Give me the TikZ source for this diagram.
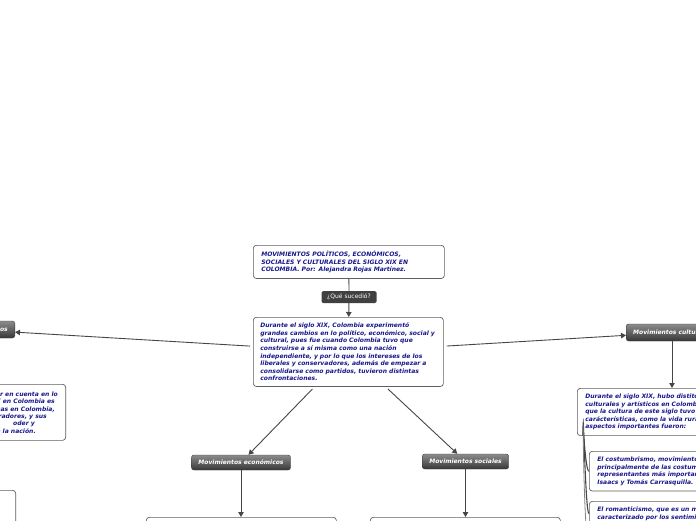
\documentclass[tikz,border=0pt]{standalone}
\usepackage{fontspec}
\setmainfont{DejaVu Sans}
\usetikzlibrary{arrows.meta}
\definecolor{navy}{RGB}{24,24,140}
\definecolor{edgec}{RGB}{70,70,70}
\definecolor{boxline}{RGB}{95,95,95}
\definecolor{qgray}{RGB}{64,64,64}
\definecolor{tagtop}{RGB}{140,140,140}
\definecolor{tagbot}{RGB}{55,55,55}
\begin{document}
\begin{tikzpicture}[x=1pt,y=-1pt,
  txt/.style={font=\fontsize{6.05}{7.6}\selectfont\bfseries\itshape, text=navy},
  box/.style={txt, draw=boxline, line width=0.7pt, rounded corners=3pt, fill=white,
    align=left, anchor=north west, inner xsep=8pt, inner ysep=5.5pt},
  tag/.style={font=\fontsize{6}{7}\selectfont\bfseries\itshape, text=white,
    rounded corners=2.5pt, top color=tagtop, bottom color=tagbot, draw=tagbot,
    line width=0.4pt, minimum height=15pt, inner xsep=7pt, inner ysep=0pt},
  qlabel/.style={font=\fontsize{6}{7}\selectfont, text=white, fill=qgray,
    rounded corners=1.5pt, minimum width=55pt, minimum height=12pt, inner sep=1pt},
  conn/.style={draw=edgec, line width=0.9pt},
  arr/.style={conn, -{Triangle[length=5pt,width=5.5pt]}},
]
\useasboundingbox (0,0) rectangle (696,520);
\clip (0,0) rectangle (696,520);

% title and question
\node[box, text width=175pt] (title) at (253,245)
  {MOVIMIENTOS POLÍTICOS, ECONÓMICOS,\\SOCIALES Y CULTURALES DEL SIGLO XIX EN\\COLOMBIA. Por: Alejandra Rojas Martínez.};
\node[qlabel] (q) at (349,297) {¿Qué sucedió?};

% main box
\node[box, text width=176pt, inner xsep=7pt] (main) at (253,317)
  {Durante el siglo XIX, Colombia experimentó\\
   grandes cambios en lo político, económico, social y\\
   cultural, pues fue cuando Colombia tuvo que\\
   construirse a sí misma como una nación\\
   independiente, y por lo que los intereses de los\\
   liberales y conservadores, además de empezar a\\
   consolidarse como partidos, tuvieron distintas\\
   confrontaciones.};

% category tags
\node[tag] (econ) at (241,462.5) {Movimientos económicos};
\node[tag] (soc) at (465.5,461.5) {Movimientos sociales};
\node[tag, anchor=west, minimum height=17pt] (cult) at (626,332.5) {Movimientos culturales};
\node[tag, anchor=east, minimum height=17pt] (pol) at (15,329.5) {Movimientos políticos};

% political side boxes (mostly off canvas)
\node[box, minimum width=190pt, minimum height=56pt, anchor=north east] (pbox) at (66,384) {};
\node[txt, anchor=base east, inner sep=0pt] (pl1) at (58,396.5) {er en cuenta en lo};
\node[txt, anchor=base east, inner sep=0pt] (pl2) at (55,403.8) {XIX en Colombia es};
\node[txt, anchor=base east, inner sep=0pt] (pl3) at (55,411.1) {cas en Colombia,};
\node[txt, anchor=base east, inner sep=0pt] (pl4) at (47,418.4) {radores, y sus};
\node[txt, anchor=base east, inner sep=0pt] (pl5) at (35,425.7) {oder y};
\node[txt, anchor=base east, inner sep=0pt] (pl6) at (36,433) {a la nación.};
\node[box, minimum width=190pt, minimum height=40pt, anchor=north east] (pbox2) at (16,490) {};

% economic and social boxes (cut by bottom edge)
\node[box, minimum width=190pt, minimum height=40pt] (ebox) at (146,517) {};
\node[box, minimum width=190pt, minimum height=40pt] (sbox) at (370,517) {};

% cultural boxes
\node[box, text width=175pt] (ctext) at (577,388)
  {Durante el siglo XIX, hubo distitos\\
   culturales y artísticos en Colombia\\
   que la cultura de este siglo tuvo\\
   carácterísticas, como la vida rural\\
   aspectos importantes fueron:};
\node[box, text width=175pt] (c1) at (589,451)
  {El costumbrismo, movimiento\\
   principalmente de las costumbres\\
   representantes más importantes\\
   Isaacs y Tomás Carrasquilla.};
\node[box, text width=175pt] (c2) at (589,501)
  {El romanticismo, que es un movimiento\\
   caracterizado por los sentimientos};
\coordinate (cstart) at ([xshift=6pt]ctext.south west);
\coordinate (cend) at (586,525);
\coordinate (carr) at ([xshift=46pt]cult.south west);

% connectors
\draw[conn] (title) -- (q);
\draw[arr] (q) -- (main);
\draw[arr, shorten <=3pt] (main) -- (pol);
\draw[arr, shorten <=3pt] (main) -- (cult);
\draw[arr, shorten <=3pt] (main) -- (econ);
\draw[arr, shorten <=3pt] (main) -- (soc);
\draw[arr] (econ) -- (econ |- ebox.north);
\draw[arr] (soc) -- (soc |- sbox.north);
\draw[arr] (carr) -- (carr |- ctext.north);
\draw[conn, line width=1.1pt] (cstart) .. controls ([yshift=22pt]cstart) and ([xshift=-4pt]c1.west) .. (c1.west);
\draw[conn, line width=1.1pt] (cstart) .. controls ([yshift=55pt]cstart) and ([xshift=-4pt]c2.west) .. (c2.west);
\draw[conn, draw=gray, line width=0.8pt] (cstart) .. controls ([yshift=40pt]cstart) and (583,480) .. (cend);
\end{tikzpicture}
\end{document}
